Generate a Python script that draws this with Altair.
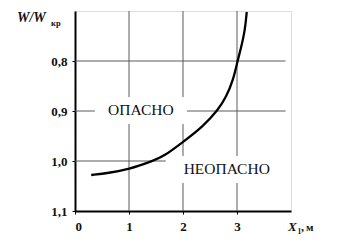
import altair as alt
import pandas as pd

# curve W/Wkr vs X1
x_m = [0.30, 0.62, 0.99, 1.44, 1.64, 2.00, 2.37, 2.65, 2.80, 2.93, 3.01, 3.065, 3.15, 3.18]
w_ratio = [1.028, 1.024, 1.017, 1.000, 0.991, 0.962, 0.931, 0.898, 0.872, 0.838, 0.800, 0.778, 0.738, 0.702]

# region labels
label_text = ["ОПАСНО", "НЕОПАСНО"]
label_x = [1.22, 2.81]
label_y = [0.898, 1.016]

x_ticks = [0, 1, 2, 3]
y_ticks = [0.8, 0.9, 1.0, 1.1]
x_grid = [1, 2, 3]
y_grid = [0.8, 0.9, 1.0]

curve = pd.DataFrame({"x": x_m, "w": w_ratio})
labels = pd.DataFrame({"t": label_text, "x": label_x, "y": label_y})

xs = alt.Scale(domain=[0, 4], nice=False, zero=False)
ys = alt.Scale(domain=[0.7, 1.1], reverse=True, nice=False, zero=False)

px_x = 216 / 4.0   # px per data unit (x)
px_y = 200 / 0.4   # px per data unit (y)

base_axis = dict(
    grid=False, domainColor="black", domainWidth=2, tickColor="black", tickSize=3,
    labelFont="Liberation Serif",
    labelFontWeight="bold", labelFontSize=13, labelColor="#111", title=None,
)

axis_layer = alt.Chart(curve).mark_line(opacity=0).encode(
    x=alt.X("x:Q", scale=xs, axis=alt.Axis(values=x_ticks, format="d", labelPadding=6, **base_axis)),
    y=alt.Y("w:Q", scale=ys, axis=alt.Axis(values=y_ticks, labelPadding=5,
            labelExpr="replace(format(datum.value, '.1f'), '.', ',')", **base_axis)),
)

grid_style = dict(color="#5a5a5a", strokeWidth=1)
vgrid = alt.Chart(pd.DataFrame({"g": x_grid})).mark_rule(**grid_style).encode(
    x=alt.X("g:Q", scale=xs), y=alt.datum(0.7, scale=ys), y2=alt.datum(1.1)
)
hgrid = alt.Chart(pd.DataFrame({"g": y_grid})).mark_rule(**grid_style).encode(
    y=alt.Y("g:Q", scale=ys), x=alt.datum(0, scale=xs), x2=alt.datum(3.9)
)

# white gaps in the grid behind the region labels
boxes = alt.Chart(labels).transform_calculate(
    hw=f"(length(datum.t) * 7.5 + 1) / {px_x}",
    bx1="datum.x - datum.hw", bx2="datum.x + datum.hw",
    by1=f"datum.y - 13 / {px_y}", by2=f"datum.y + 14 / {px_y}",
).mark_rect(color="white").encode(
    x=alt.X("bx1:Q", scale=xs), x2="bx2:Q",
    y=alt.Y("by1:Q", scale=ys), y2="by2:Q",
)

line = alt.Chart(curve).mark_line(color="black", strokeWidth=2.3, interpolate="basis").encode(
    x=alt.X("x:Q", scale=xs), y=alt.Y("w:Q", scale=ys)
)

texts = alt.Chart(labels).mark_text(font="Liberation Serif", fontSize=15.5, color="#111").encode(
    x=alt.X("x:Q", scale=xs), y=alt.Y("y:Q", scale=ys), text="t:N"
)

def ann(txt, px, py, size, style="normal", weight="normal"):
    return alt.Chart(pd.DataFrame({"t": [txt]})).mark_text(
        font="Liberation Serif", fontSize=size, fontStyle=style, fontWeight=weight,
        align="left", baseline="alphabetic", color="#111"
    ).encode(x=alt.value(px), y=alt.value(py), text="t:N")

titles = [
    ann("W/W", 17 - 75, 22 - 11, 14, "italic", "bold"),
    ann("кр", 51 - 75, 26 - 11, 8.5, "normal", "bold"),
    ann("X", 288 - 75, 231 - 11, 13, "italic", "bold"),
    ann("1", 297.5 - 75, 234 - 11, 7.5, "normal", "bold"),
    ann(",", 301 - 75, 231 - 11, 12, "normal", "bold"),
    ann("м", 306 - 75, 231 - 11, 11, "normal", "bold"),
]

chart = alt.layer(axis_layer, vgrid, hgrid, boxes, line, texts, *titles).properties(
    width=216, height=200,
    autosize=alt.AutoSizeParams(type="none"),
    padding={"left": 75, "top": 11, "right": 57, "bottom": 33},
).configure_view(stroke=None).configure(background="white")

chart.save("out.html", embed_options={"renderer": "svg", "actions": False})
